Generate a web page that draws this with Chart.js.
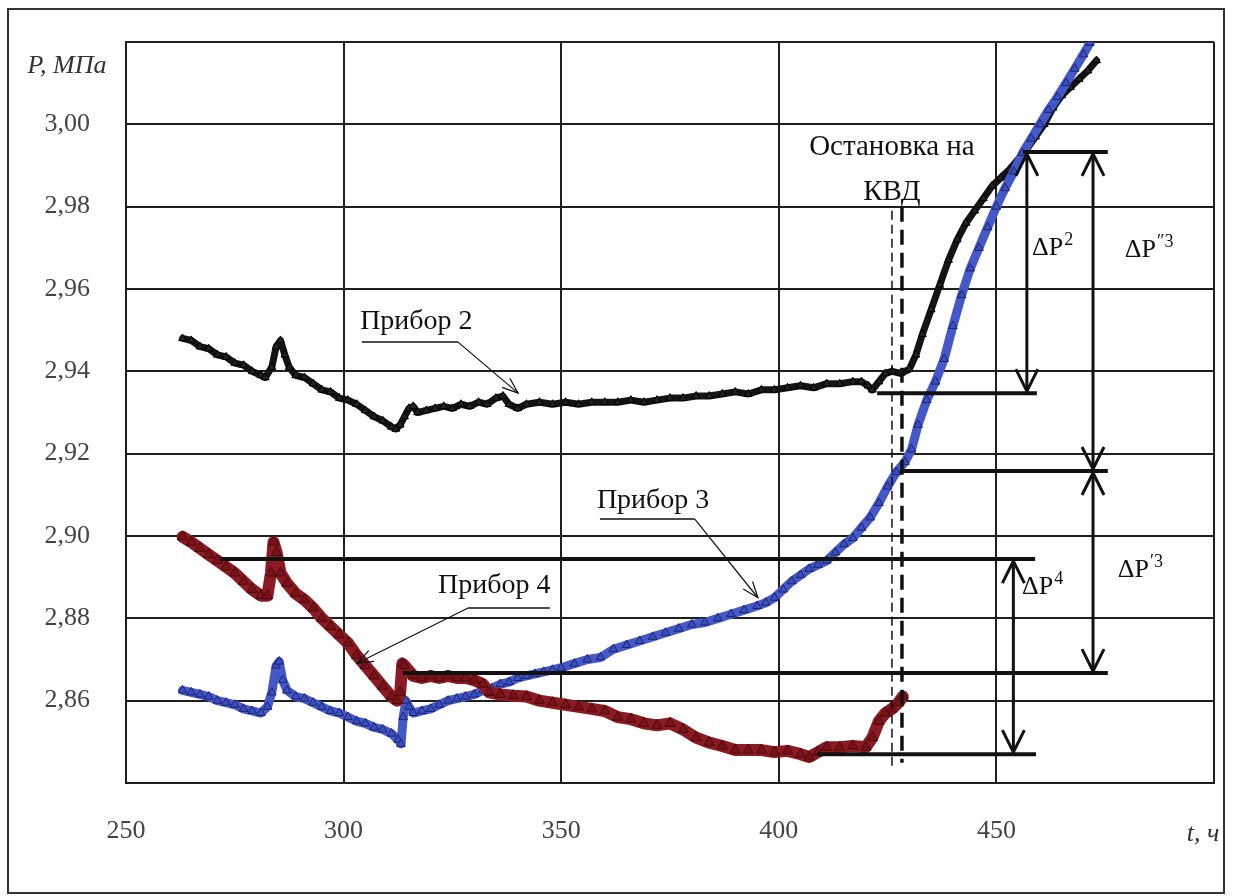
<!DOCTYPE html>
<html>
<head>
<meta charset="utf-8">
<title>Давление по приборам</title>
<script src="https://cdn.jsdelivr.net/npm/chart.js@4.4.1/dist/chart.umd.min.js"></script>
<style>
  html, body { margin: 0; padding: 0; background: #fff; }
  #wrap { width: 1235px; height: 896px; }
</style>
</head>
<body>
<div id="wrap"><canvas id="pressureChart" width="1235" height="896"></canvas></div>
<script>
// axis ticks
const timeTicks = [250, 300, 350, 400, 450, 500];
const pressureTicks = [2.84, 2.86, 2.88, 2.90, 2.92, 2.94, 2.96, 2.98, 3.00, 3.02];

// Прибор 2 (t, ч / P, МПа)
const t2 = [263, 265, 267, 269, 271, 273, 275, 277, 279, 281, 282, 283.5, 284.5, 285.5, 286.5, 287.5, 289, 291, 293, 295,
  297, 299, 301, 303, 305, 307, 309, 311, 312, 313, 314, 315, 316, 317, 319, 321, 323, 325, 327, 329,
  331, 333, 335, 336.6, 338, 340, 342, 345, 348, 351, 354, 357, 360, 363, 366, 369, 372, 375, 378, 381,
  384, 387, 390, 393, 396, 399, 402, 405, 408, 411, 414, 417, 419, 420.5, 421.5, 423, 424.5, 426, 428, 430,
  431.5, 433, 435, 437, 439, 441, 443, 445, 447, 449, 451, 453, 455, 457, 459, 461, 463, 465, 467, 469, 471, 473];
const p2 = [2.948, 2.9475, 2.946, 2.9455, 2.944, 2.9435, 2.942, 2.9415, 2.940, 2.939, 2.9385, 2.941, 2.946, 2.9475, 2.944, 2.941, 2.939, 2.9385, 2.937, 2.9355,
  2.935, 2.9335, 2.933, 2.932, 2.9305, 2.929, 2.928, 2.9265, 2.926, 2.927, 2.929, 2.931, 2.9315, 2.930, 2.9305, 2.931, 2.9315, 2.931, 2.932, 2.9315,
  2.9325, 2.932, 2.9335, 2.934, 2.932, 2.931, 2.932, 2.9325, 2.932, 2.9325, 2.932, 2.9325, 2.9325, 2.9325, 2.933, 2.9325, 2.933, 2.9335, 2.9335, 2.934,
  2.934, 2.9345, 2.935, 2.9345, 2.9355, 2.9355, 2.936, 2.9365, 2.936, 2.937, 2.937, 2.9375, 2.9375, 2.9365, 2.9355, 2.9375, 2.9395, 2.940, 2.9395, 2.9405,
  2.944, 2.949, 2.955, 2.961, 2.967, 2.972, 2.976, 2.979, 2.982, 2.985, 2.987, 2.989, 2.9915, 2.994, 2.997, 3.000, 3.004, 3.007, 3.009, 3.011, 3.013, 3.0155];

// Прибор 3
const t3 = [263, 265, 267, 269, 271, 273, 275, 277, 279, 281, 282.5, 283.5, 284.5, 285.2, 286, 287, 289, 291, 293, 295,
  297, 299, 301, 303, 305, 307, 309, 311, 312.5, 313.2, 313.7, 314.3, 315, 316, 318, 320, 322, 324, 326, 328,
  330, 332, 334, 336, 338, 340, 342, 344, 346, 348, 350, 353, 356, 359, 362, 365, 368, 371, 374, 377,
  380, 383, 386, 389, 392, 395, 397, 399, 401, 403, 405, 407, 409, 411, 413, 415, 417, 419, 421, 423,
  425, 427, 429, 430.5, 432, 434, 436, 438, 440, 442, 444, 446, 448, 450, 452, 454, 456, 458, 460, 462, 464, 466, 468, 470, 471.5];
const p3 = [2.8625, 2.862, 2.8615, 2.861, 2.860, 2.8595, 2.859, 2.858, 2.8575, 2.857, 2.8585, 2.862, 2.8685, 2.8695, 2.865, 2.8625, 2.861, 2.8605, 2.8595, 2.8585,
  2.8575, 2.857, 2.856, 2.855, 2.8545, 2.8535, 2.853, 2.852, 2.8505, 2.8495, 2.856, 2.860, 2.8585, 2.857, 2.8575, 2.858, 2.859, 2.860, 2.8605, 2.861,
  2.8615, 2.8625, 2.863, 2.864, 2.8645, 2.8655, 2.866, 2.8665, 2.867, 2.8675, 2.868, 2.869, 2.870, 2.8705, 2.8725, 2.8735, 2.8745, 2.8755, 2.8765, 2.8775,
  2.8785, 2.879, 2.880, 2.881, 2.882, 2.883, 2.8838, 2.885, 2.887, 2.889, 2.8905, 2.892, 2.893, 2.894, 2.896, 2.898, 2.8995, 2.902, 2.9045, 2.908,
  2.912, 2.9155, 2.918, 2.921, 2.927, 2.933, 2.9375, 2.943, 2.951, 2.9585, 2.965, 2.970, 2.975, 2.980, 2.9845, 2.9885, 2.993, 2.9965, 3.000, 3.0035, 3.0066, 3.010, 3.0135, 3.017, 3.0198];

// Прибор 4
const t4 = [263, 265, 267, 269, 271, 273, 275, 277, 279, 281, 282.5, 283.3, 283.9, 284.6, 285.5, 287, 289, 291, 293, 295,
  297, 299, 301, 303, 305, 307, 309, 311, 312.3, 313, 313.5, 314, 316, 318, 320, 322, 324, 326, 328, 330,
  332, 333.5, 336, 339, 342, 345, 348, 351, 354, 357, 360, 363, 366, 369, 372, 375, 378, 381, 384, 387,
  390, 393, 396, 399, 402, 405, 407, 409, 411, 414, 417, 420, 421.5, 423, 424.5, 426, 427.5, 428.5];
const p4 = [2.8998, 2.8985, 2.897, 2.8955, 2.894, 2.8925, 2.891, 2.889, 2.887, 2.8855, 2.8855, 2.891, 2.8985, 2.896, 2.891, 2.8885, 2.886, 2.8845, 2.8825, 2.880,
  2.878, 2.876, 2.874, 2.871, 2.8685, 2.866, 2.8635, 2.861, 2.860, 2.862, 2.869, 2.8685, 2.866, 2.8655, 2.866, 2.8655, 2.866, 2.8655, 2.8655, 2.865,
  2.864, 2.862, 2.8615, 2.8612, 2.861, 2.860, 2.8595, 2.859, 2.8585, 2.858, 2.8575, 2.856, 2.8555, 2.8545, 2.854, 2.8545, 2.853, 2.851, 2.8498, 2.849,
  2.848, 2.848, 2.848, 2.8475, 2.8478, 2.847, 2.8463, 2.8475, 2.8487, 2.8487, 2.849, 2.8487, 2.851, 2.855, 2.857, 2.858, 2.8595, 2.861];

// shut-in moment (two dashed markers)
const stopTimes = [426, 428.3];

// reference pressure levels drawn as thick horizontal lines
const levelP = [2.9933, 2.9347, 2.9158, 2.8944, 2.8667, 2.847];
const levelFrom = [456.1, 422.6, 427.8, 271.6, 313.6, 408.8];
const levelTo = [475.6, 459.3, 475.6, 458.9, 475.6, 459.1];

// ΔP arrows: time, upper and lower pressure, label
const deltaT = [457.0, 472.2, 472.2, 453.9];
const deltaTop = [2.9933, 2.9933, 2.9158, 2.8944];
const deltaBottom = [2.9347, 2.9158, 2.8667, 2.847];
const deltaSup = ['2', '″3', '′3', '4'];
const deltaLabelT = [458.2, 479.5, 477.9, 455.9];
const deltaLabelP = [2.970, 2.9695, 2.8917, 2.8876];

const SERIF = '"Liberation Serif", "DejaVu Serif", serif';
const GRID = '#1f1f1f';

function toPoints(ts, ps) {
  return ts.map((t, i) => ({ x: t, y: ps[i] }));
}

function arrowHead(ctx, x, y, dirX, dirY, len, half) {
  // open V arrowhead with the tip at (x, y), pointing along (dirX, dirY)
  const nx = -dirY, ny = dirX;
  ctx.beginPath();
  ctx.moveTo(x - dirX * len + nx * half, y - dirY * len + ny * half);
  ctx.lineTo(x, y);
  ctx.lineTo(x - dirX * len - nx * half, y - dirY * len - ny * half);
  ctx.stroke();
}

function leader(ctx, x1, y1, x2, y2) {
  ctx.lineWidth = 1.2;
  ctx.beginPath();
  ctx.moveTo(x1, y1);
  ctx.lineTo(x2, y2);
  ctx.stroke();
  const d = Math.hypot(x2 - x1, y2 - y1);
  arrowHead(ctx, x2, y2, (x2 - x1) / d, (y2 - y1) / d, 16, 6);
}

const annotations = {
  id: 'annotations',
  afterDraw(chart) {
    const ctx = chart.ctx;
    const xs = chart.scales.x, ys = chart.scales.y;
    const X = v => xs.getPixelForValue(v);
    const Y = v => ys.getPixelForValue(v);
    ctx.save();
    ctx.strokeStyle = '#111';
    ctx.fillStyle = '#111';
    ctx.lineCap = 'butt';

    // shut-in markers
    ctx.lineWidth = 1.5;
    ctx.setLineDash([9, 5]);
    ctx.beginPath();
    ctx.moveTo(X(stopTimes[0]), Y(2.979));
    ctx.lineTo(X(stopTimes[0]), Y(2.8432));
    ctx.stroke();
    ctx.lineWidth = 3.5;
    ctx.setLineDash([15, 8]);
    ctx.beginPath();
    ctx.moveTo(X(stopTimes[1]), Y(2.980));
    ctx.lineTo(X(stopTimes[1]), Y(2.8449));
    ctx.stroke();
    ctx.setLineDash([]);

    // pressure levels
    ctx.lineWidth = 4;
    levelP.forEach((p, i) => {
      ctx.beginPath();
      ctx.moveTo(X(levelFrom[i]), Y(p));
      ctx.lineTo(X(levelTo[i]), Y(p));
      ctx.stroke();
    });

    // ΔP arrows
    ctx.lineWidth = 3;
    deltaT.forEach((t, i) => {
      const x = X(t), y1 = Y(deltaTop[i]), y2 = Y(deltaBottom[i]);
      ctx.beginPath();
      ctx.moveTo(x, y1 + 2);
      ctx.lineTo(x, y2 - 2);
      ctx.stroke();
      arrowHead(ctx, x, y1 + 2, 0, -1, 22, 11);
      arrowHead(ctx, x, y2 - 2, 0, 1, 22, 11);
    });

    // ΔP labels with superscripts
    ctx.textBaseline = 'middle';
    ctx.textAlign = 'left';
    deltaSup.forEach((s, i) => {
      const x = X(deltaLabelT[i]), y = Y(deltaLabelP[i]);
      ctx.font = '26px ' + SERIF;
      ctx.fillText('ΔP', x, y);
      const w = ctx.measureText('ΔP').width;
      ctx.font = '18px ' + SERIF;
      ctx.fillText(s, x + w + 1, y - 8);
    });

    // shut-in caption
    ctx.font = '29px ' + SERIF;
    ctx.textAlign = 'center';
    ctx.fillText('Остановка на', X(426), Y(2.9945));
    ctx.fillText('КВД', X(426), Y(2.9835));

    // instrument captions with underline and leader
    ctx.textAlign = 'left';
    ctx.font = '28px ' + SERIF;
    ctx.fillText('Прибор 2', X(303.8), Y(2.952));
    ctx.fillText('Прибор 3', X(358.2), Y(2.9087));
    ctx.fillText('Прибор 4', X(321.7), Y(2.888));

    ctx.lineWidth = 1.5;
    ctx.beginPath();
    ctx.moveTo(X(304.2), Y(2.9471)); ctx.lineTo(X(326.3), Y(2.9471));
    ctx.moveTo(X(358.9), Y(2.9041)); ctx.lineTo(X(380.7), Y(2.9041));
    ctx.moveTo(X(328.6), Y(2.8825)); ctx.lineTo(X(347.4), Y(2.8825));
    ctx.stroke();
    leader(ctx, X(326.3), Y(2.9471), X(340.1), Y(2.9347));
    leader(ctx, X(380.7), Y(2.9041), X(395.2), Y(2.885));
    leader(ctx, X(328.6), Y(2.8825), X(303.1), Y(2.8691));

    // axis captions
    ctx.fillStyle = '#333';
    ctx.font = 'italic 26px ' + SERIF;
    ctx.textAlign = 'center';
    ctx.fillText('P, МПа', 67, 66);
    ctx.fillText('t, ч', 1203, 834);

    // outer frame
    ctx.strokeStyle = '#333';
    ctx.lineWidth = 2;
    ctx.strokeRect(8, 9, 1216, 884);
    ctx.restore();
  }
};

const ctx = document.getElementById('pressureChart').getContext('2d');

const seriesStyle = {
  showLine: true,
  pointStyle: 'triangle',
  borderJoinStyle: 'round',
  borderCapStyle: 'round',
  pointBorderWidth: 1
};

new Chart(ctx, {
  type: 'scatter',
  data: {
    datasets: [
      Object.assign({
        label: 'Прибор 4',
        data: toPoints(t4, p4),
        borderColor: '#8c1a22',
        borderWidth: 12,
        pointRadius: 6,
        pointBackgroundColor: '#7a1219',
        pointBorderColor: '#4a0a0e'
      }, seriesStyle),
      Object.assign({
        label: 'Прибор 3',
        data: toPoints(t3, p3),
        borderColor: '#4458c8',
        borderWidth: 9,
        pointRadius: 5,
        pointBackgroundColor: '#3b4fc0',
        pointBorderColor: '#1b2470'
      }, seriesStyle),
      Object.assign({
        label: 'Прибор 2',
        data: toPoints(t2, p2),
        borderColor: '#141414',
        borderWidth: 7,
        pointRadius: 4.5,
        pointBackgroundColor: '#222',
        pointBorderColor: '#000'
      }, seriesStyle)
    ]
  },
  options: {
    responsive: false,
    animation: false,
    events: [],
    layout: { padding: { left: 0, top: 42, right: 21, bottom: 0 } },
    plugins: {
      legend: { display: false },
      tooltip: { enabled: false }
    },
    scales: {
      x: {
        type: 'linear',
        min: 250,
        max: 500,
        afterBuildTicks: scale => { scale.ticks = timeTicks.map(v => ({ value: v })); },
        afterFit: scale => {
          scale.height = 113;
          scale.paddingLeft = 0;
          scale.paddingRight = 0;
        },
        grid: { color: GRID, lineWidth: 2, drawTicks: false },
        border: { color: GRID, width: 2 },
        ticks: {
          padding: 33,
          maxRotation: 0,
          color: '#444',
          font: { family: SERIF, size: 26 },
          callback: v => (v === 500 ? '' : String(v))
        }
      },
      y: {
        type: 'linear',
        min: 2.84,
        max: 3.02,
        afterBuildTicks: scale => { scale.ticks = pressureTicks.map(v => ({ value: v })); },
        afterFit: scale => {
          scale.width = 126;
          scale.paddingTop = 0;
          scale.paddingBottom = 0;
        },
        grid: { color: GRID, lineWidth: 2, drawTicks: false },
        border: { color: GRID, width: 2 },
        ticks: {
          padding: 36,
          color: '#444',
          font: { family: SERIF, size: 26 },
          callback: v => (v < 2.85 || v > 3.01 ? '' : v.toFixed(2).replace('.', ','))
        }
      }
    }
  },
  plugins: [annotations]
});
</script>
</body>
</html>
